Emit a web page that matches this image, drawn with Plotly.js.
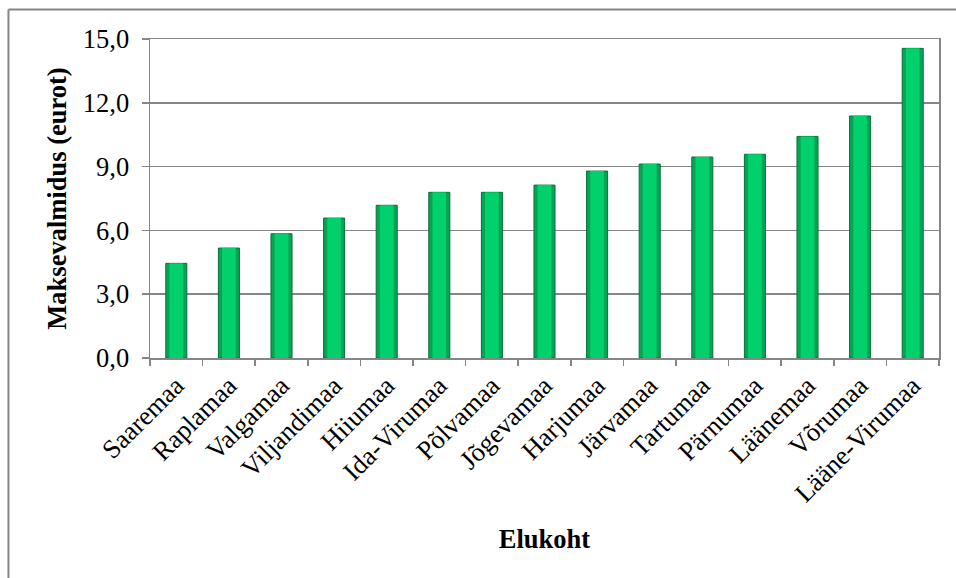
<!DOCTYPE html>
<html>
<head>
<meta charset="utf-8">
<script src="https://cdn.plot.ly/plotly-3.0.1.min.js"></script>
<style>
  html, body { margin: 0; padding: 0; background: #fff; }
  #chart { width: 956px; height: 578px; }
</style>
</head>
<body>
<div id="chart"></div>
<script>
// Counties (elukoht) and willingness to pay in euros
const counties = ["Saaremaa", "Raplamaa", "Valgamaa", "Viljandimaa", "Hiiumaa",
  "Ida-Virumaa", "Põlvamaa", "Jõgevamaa", "Harjumaa", "Järvamaa",
  "Tartumaa", "Pärnumaa", "Läänemaa", "Võrumaa", "Lääne-Virumaa"];
const willingness = [4.45, 5.17, 5.84, 6.58, 7.18, 7.79, 7.79, 8.13, 8.79, 9.12,
  9.45, 9.58, 10.42, 11.38, 14.56];
const yTicks = [0, 3, 6, 9, 12, 15];

const serif = '"Liberation Serif", "Times New Roman", serif';

// Outer shaded bar (dark edges) plus a narrower bright core on top of it
const outer = {
  type: 'bar', x: counties, y: willingness, width: 0.40,
  marker: { color: '#08a455', line: { color: '#06703a', width: 1 } },
  hoverinfo: 'x+y'
};
const inner = {
  type: 'bar', x: counties, y: willingness, width: 0.26,
  marker: { color: '#00d16c', line: { width: 0 } },
  hoverinfo: 'skip'
};

const layout = {
  width: 956, height: 578,
  margin: { l: 150, r: 17, t: 39, b: 220 },
  paper_bgcolor: '#ffffff', plot_bgcolor: '#ffffff',
  showlegend: false,
  barmode: 'overlay',
  separators: ', ',
  font: { family: serif, color: '#000', size: 26 },
  xaxis: {
    type: 'category',
    tickangle: -45,
    tickfont: { family: serif, size: 26.5, color: '#000' },
    showline: true, linecolor: '#868686', linewidth: 1.5, mirror: true,
    ticks: 'outside', tickson: 'boundaries', ticklen: 6, tickcolor: '#868686', tickwidth: 1.5,
    showgrid: false,
    title: { text: '<b>Elukoht</b>', font: { family: serif, size: 26.5, color: '#000' }, standoff: 22 }
  },
  yaxis: {
    range: [0, 15],
    tickvals: yTicks,
    tickformat: '.1f',
    tickfont: { family: serif, size: 26.5, color: '#000' },
    ticklabelstandoff: 7,
    showline: true, linecolor: '#868686', linewidth: 1.5, mirror: true,
    ticks: 'outside', ticklen: 7, tickcolor: '#868686', tickwidth: 1.5,
    showgrid: true, gridcolor: '#868686', gridwidth: 1.5,
    zeroline: false,
    title: { text: '<b>Maksevalmidus (eurot)</b>', font: { family: serif, size: 26.5, color: '#000' }, standoff: 8 }
  },
  shapes: [
    // chart frame (left and top edges)
    { type: 'line', xref: 'paper', yref: 'paper', x0: -0.1794, x1: 1.1, y0: 1.0925, y1: 1.0925,
      line: { color: '#868686', width: 2 } },
    { type: 'line', xref: 'paper', yref: 'paper', x0: -0.1794, x1: -0.1794, y0: 1.0925, y1: -0.8,
      line: { color: '#868686', width: 2 } }
  ]
};

Plotly.newPlot('chart', [outer, inner], layout, { displayModeBar: false, staticPlot: true });
</script>
</body>
</html>
